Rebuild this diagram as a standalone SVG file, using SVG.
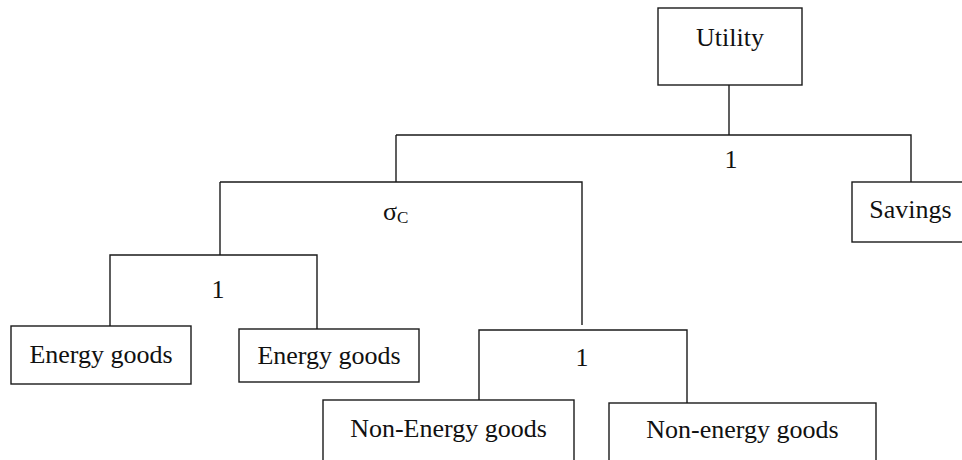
<svg xmlns="http://www.w3.org/2000/svg" width="962" height="460" viewBox="0 0 962 460">
<style>
  .box { fill: #ffffff; stroke: #1a1a1a; stroke-width: 1.4; }
  .conn { fill: none; stroke: #1a1a1a; stroke-width: 1.4; }
  .t { font-family: "Liberation Serif", "Times New Roman", serif; font-size: 26px; fill: #111; text-anchor: middle; }
  .sub { font-family: "Liberation Serif", "Times New Roman", serif; font-size: 17px; fill: #111; }
</style>
<rect width="962" height="460" fill="#ffffff"/>
<g id="connectors">
  <path class="conn" d="M729,85 V135"/>
  <path class="conn" d="M396,135 H911 V182"/>
  <path class="conn" d="M396,135 V182"/>
  <path class="conn" d="M220,182 H582 V325"/>
  <path class="conn" d="M220,182 V255"/>
  <path class="conn" d="M110,326 V255 H317 V329"/>
  <path class="conn" d="M479,400 V330 H687 V403"/>
</g>
<g id="labels">
  <text class="t" x="731" y="168">1</text>
  <text x="383" y="220" font-family="Liberation Serif, Times New Roman, serif" font-size="26" fill="#111">σ<tspan class="sub" dy="3">C</tspan></text>
  <text class="t" x="218" y="298">1</text>
  <text class="t" x="582" y="366">1</text>
</g>
<g id="utility">
  <rect class="box" x="658" y="8" width="144" height="77"/>
  <text class="t" x="730" y="46">Utility</text>
</g>
<g id="savings">
  <rect class="box" x="852" y="182" width="130" height="60"/>
  <text class="t" x="910.5" y="218">Savings</text>
</g>
<g id="energy1">
  <rect class="box" x="11" y="326" width="180" height="58"/>
  <text class="t" x="101" y="363">Energy goods</text>
</g>
<g id="energy2">
  <rect class="box" x="239" y="329" width="180" height="53"/>
  <text class="t" x="329" y="364">Energy goods</text>
</g>
<g id="nonenergy1">
  <rect class="box" x="323" y="400" width="251" height="80"/>
  <text class="t" x="448.5" y="437">Non-Energy goods</text>
</g>
<g id="nonenergy2">
  <rect class="box" x="609" y="403" width="267" height="80"/>
  <text class="t" x="742.5" y="438">Non-energy goods</text>
</g>
</svg>
